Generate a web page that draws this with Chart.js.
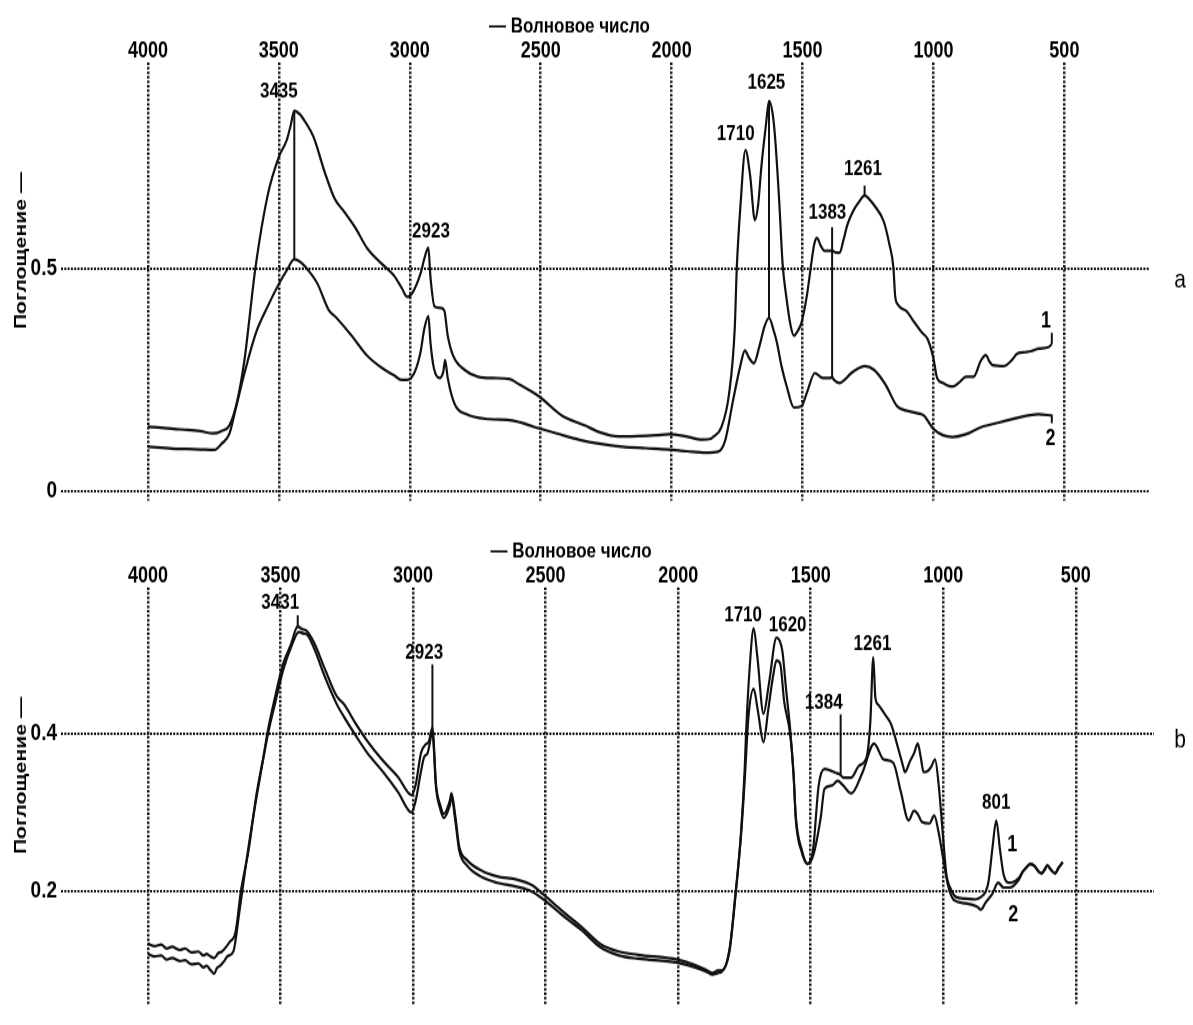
<!DOCTYPE html>
<html>
<head>
<meta charset="utf-8">
<script src="https://cdn.jsdelivr.net/npm/chart.js@4.4.1/dist/chart.umd.min.js"></script>
<style>
   html, body { margin: 0; padding: 0; background: #fff; overflow: hidden; }
   /* the source figure is stretched vertically, so each panel is drawn shorter and scaled */
   .panel { position: absolute; left: 0; width: 1193px; transform: scaleY(1.25); transform-origin: 0 0; }
   #boxA { top: 0; height: 416px; }
   #boxB { top: 520px; height: 404px; }
   canvas { display: block; }
</style>
</head>
<body>
<div id="boxA" class="panel"><canvas id="chartA" width="1193" height="416" style="width:1193px;height:416px"></canvas></div>
<div id="boxB" class="panel"><canvas id="chartB" width="1193" height="404" style="width:1193px;height:404px"></canvas></div>
<script>
// wavenumber ticks, same for both panels
const xTicks = [4000, 3500, 3000, 2500, 2000, 1500, 1000, 500];
const yTicksA = [0, 0.5];
const yTicksB = [0.2, 0.4];

const xTitle = '— Волновое число';
const yTitle = 'Поглощение —';

// ---- panel a ----
const wnA1 = [4000, 3950, 3900, 3850, 3800, 3750, 3720, 3689, 3660, 3630, 3610, 3590, 3543, 3499, 3470, 3455, 3441, 3420, 3398, 3368,
   3324, 3287, 3251, 3207, 3164, 3105, 3061, 3030, 3010, 2990, 2959, 2945, 2929, 2921, 2905, 2880, 2868, 2855, 2835, 2790,
   2740, 2680, 2620, 2580, 2507, 2419, 2332, 2277, 2204, 2130, 2058, 2010, 1950, 1883, 1850, 1839, 1810, 1781, 1759, 1751,
   1737, 1718, 1700, 1682, 1670, 1657, 1640, 1628, 1615, 1606, 1590, 1576, 1562, 1545, 1533, 1518, 1504, 1482, 1467, 1455,
   1445, 1430, 1416, 1387, 1370, 1358, 1345, 1329, 1305, 1285, 1263, 1245, 1226, 1190, 1168, 1153, 1146, 1135, 1124, 1103,
   1080, 1044, 1022, 1000, 986, 964, 940, 927, 900, 876, 847, 818, 800, 785, 774, 730, 701, 679, 650, 628,
   599, 562, 548];
const absA1 = [0.145, 0.143, 0.140, 0.138, 0.135, 0.130, 0.135, 0.148, 0.200, 0.300, 0.400, 0.499, 0.663, 0.751, 0.787, 0.820, 0.853, 0.845, 0.827, 0.795,
   0.714, 0.656, 0.627, 0.590, 0.546, 0.509, 0.484, 0.455, 0.436, 0.445, 0.488, 0.520, 0.546, 0.480, 0.414, 0.411, 0.405, 0.349, 0.305, 0.272,
   0.257, 0.254, 0.252, 0.239, 0.213, 0.170, 0.148, 0.133, 0.123, 0.124, 0.126, 0.128, 0.124, 0.116, 0.118, 0.123, 0.144, 0.217, 0.364, 0.502,
   0.641, 0.765, 0.707, 0.608, 0.640, 0.729, 0.820, 0.875, 0.850, 0.802, 0.660, 0.509, 0.436, 0.370, 0.349, 0.360, 0.378, 0.444, 0.509, 0.555,
   0.568, 0.550, 0.539, 0.539, 0.535, 0.535, 0.560, 0.597, 0.630, 0.648, 0.663, 0.655, 0.641, 0.605, 0.553, 0.502, 0.436, 0.418, 0.411, 0.404,
   0.385, 0.356, 0.341, 0.298, 0.254, 0.243, 0.236, 0.235, 0.245, 0.257, 0.257, 0.294, 0.305, 0.290, 0.283, 0.281, 0.294, 0.309, 0.312, 0.314,
   0.320, 0.323, 0.330];

const wnA2 = [4000, 3950, 3908, 3850, 3800, 3747, 3718, 3689, 3667, 3630, 3587, 3543, 3499, 3470, 3441, 3420, 3397, 3353, 3310, 3280,
   3222, 3164, 3105, 3060, 3032, 3010, 2981, 2959, 2945, 2929, 2921, 2908, 2886, 2872, 2865, 2855, 2828, 2784, 2697, 2609,
   2522, 2434, 2347, 2277, 2189, 2100, 2010, 1940, 1868, 1823, 1795, 1766, 1737, 1720, 1705, 1686, 1664, 1645, 1628, 1610,
   1598, 1580, 1562, 1533, 1504, 1482, 1453, 1423, 1394, 1387, 1380, 1358, 1340, 1314, 1290, 1263, 1226, 1183, 1139, 1110,
   1095, 1060, 1037, 1000, 964, 927, 876, 818, 745, 672, 599, 548];
const absA2 = [0.100, 0.098, 0.096, 0.095, 0.094, 0.093, 0.107, 0.129, 0.180, 0.268, 0.356, 0.414, 0.466, 0.495, 0.520, 0.515, 0.502, 0.466, 0.407, 0.389,
   0.349, 0.305, 0.276, 0.260, 0.250, 0.250, 0.268, 0.312, 0.363, 0.393, 0.334, 0.276, 0.254, 0.268, 0.294, 0.254, 0.195, 0.173, 0.162, 0.159,
   0.144, 0.129, 0.115, 0.107, 0.100, 0.097, 0.094, 0.090, 0.087, 0.089, 0.115, 0.202, 0.283, 0.316, 0.300, 0.287, 0.327, 0.370, 0.389, 0.360,
   0.334, 0.280, 0.239, 0.188, 0.191, 0.224, 0.265, 0.254, 0.254, 0.256, 0.250, 0.243, 0.250, 0.265, 0.275, 0.281, 0.272, 0.239, 0.191, 0.182,
   0.180, 0.175, 0.170, 0.140, 0.126, 0.122, 0.128, 0.144, 0.155, 0.166, 0.173, 0.170];

// vertical marker lines (peak position, top, bottom)
const markWnA = [3441, 1628, 1387, 1263, 548, 548];
const markTopA = [0.853, 0.875, 0.592, 0.685, 0.355, 0.172];
const markBotA = [0.520, 0.389, 0.257, 0.663, 0.330, 0.153];

const peakTextA = ['3435', '2923', '1710', '1625', '1383', '1261', '1', '2'];
const peakWnA = [3500, 2919, 1755, 1638, 1405, 1269, 570, 553];
const peakAbsA = [0.895, 0.581, 0.801, 0.915, 0.625, 0.723, 0.382, 0.118];

// ---- panel b ----
const wnB1 = [4000, 3975, 3950, 3930, 3909, 3880, 3860, 3836, 3810, 3790, 3779, 3765, 3750, 3735, 3721, 3705, 3692, 3670, 3649, 3620,
   3591, 3562, 3548, 3519, 3490, 3461, 3435, 3420, 3403, 3374, 3331, 3288, 3259, 3216, 3172, 3115, 3057, 3006, 2990, 2970,
   2955, 2940, 2927, 2913, 2898, 2884, 2862, 2855, 2840, 2826, 2797, 2739, 2682, 2609, 2552, 2508, 2422, 2364, 2295, 2223,
   2151, 2003, 1936, 1890, 1871, 1850, 1835, 1806, 1785, 1763, 1749, 1744, 1730, 1715, 1701, 1678, 1657, 1629, 1607, 1593,
   1578, 1565, 1556, 1534, 1512, 1491, 1470, 1448, 1426, 1405, 1390, 1376, 1347, 1318, 1289, 1275, 1264, 1256, 1245, 1218,
   1196, 1175, 1152, 1145, 1125, 1110, 1096, 1085, 1074, 1060, 1045, 1031, 1017, 1002, 988, 974, 952, 916, 880, 858,
   840, 829, 815, 800, 786, 772, 750, 735, 715, 700, 685, 671, 655, 640, 628, 617, 607, 595, 578, 565,
   549];
const absB1 = [0.134, 0.131, 0.133, 0.128, 0.130, 0.126, 0.128, 0.123, 0.124, 0.119, 0.121, 0.118, 0.116, 0.122, 0.124, 0.130, 0.136, 0.148, 0.201, 0.253,
   0.322, 0.375, 0.403, 0.448, 0.488, 0.512, 0.535, 0.532, 0.530, 0.515, 0.480, 0.447, 0.436, 0.412, 0.390, 0.366, 0.345, 0.322, 0.335, 0.375,
   0.385, 0.390, 0.407, 0.334, 0.310, 0.298, 0.314, 0.324, 0.294, 0.257, 0.240, 0.226, 0.219, 0.215, 0.208, 0.196, 0.171, 0.155, 0.134, 0.124,
   0.120, 0.114, 0.107, 0.100, 0.097, 0.100, 0.100, 0.128, 0.193, 0.274, 0.355, 0.399, 0.484, 0.533, 0.496, 0.425, 0.464, 0.521, 0.504, 0.456,
   0.407, 0.350, 0.294, 0.253, 0.235, 0.253, 0.334, 0.355, 0.353, 0.350, 0.348, 0.344, 0.344, 0.359, 0.370, 0.415, 0.496, 0.445, 0.436, 0.423,
   0.411, 0.387, 0.359, 0.351, 0.365, 0.375, 0.387, 0.370, 0.351, 0.352, 0.358, 0.367, 0.334, 0.274, 0.221, 0.205, 0.193, 0.191, 0.190, 0.193,
   0.200, 0.213, 0.253, 0.290, 0.253, 0.221, 0.211, 0.212, 0.217, 0.225, 0.231, 0.235, 0.232, 0.225, 0.223, 0.228, 0.233, 0.228, 0.223, 0.230,
   0.237];

const wnB2 = [4000, 3975, 3950, 3930, 3909, 3880, 3860, 3836, 3810, 3790, 3779, 3765, 3750, 3740, 3728, 3712, 3700, 3678, 3656, 3630,
   3605, 3577, 3548, 3519, 3490, 3461, 3431, 3410, 3400, 3374, 3331, 3288, 3259, 3216, 3172, 3115, 3057, 3006, 2990, 2970,
   2958, 2945, 2927, 2913, 2898, 2884, 2862, 2855, 2840, 2826, 2797, 2739, 2682, 2609, 2552, 2508, 2422, 2364, 2295, 2223,
   2151, 2003, 1936, 1890, 1871, 1850, 1835, 1806, 1785, 1763, 1749, 1735, 1715, 1700, 1678, 1660, 1642, 1629, 1615, 1600,
   1578, 1565, 1556, 1534, 1512, 1491, 1462, 1448, 1420, 1398, 1380, 1347, 1304, 1261, 1225, 1189, 1160, 1131, 1110, 1096,
   1081, 1052, 1034, 1017, 1002, 980, 959, 916, 873, 858, 840, 815, 793, 772, 750, 715, 700, 685, 671, 655,
   640, 628, 617, 607, 595, 578, 565, 549];
const absB2 = [0.121, 0.118, 0.119, 0.114, 0.116, 0.112, 0.113, 0.108, 0.109, 0.104, 0.106, 0.101, 0.096, 0.103, 0.106, 0.112, 0.118, 0.124, 0.172, 0.235,
   0.290, 0.345, 0.398, 0.440, 0.480, 0.508, 0.528, 0.526, 0.525, 0.508, 0.470, 0.437, 0.420, 0.397, 0.375, 0.352, 0.326, 0.300, 0.315, 0.352,
   0.370, 0.375, 0.400, 0.330, 0.305, 0.293, 0.308, 0.318, 0.288, 0.252, 0.233, 0.218, 0.211, 0.206, 0.200, 0.190, 0.166, 0.151, 0.130, 0.119,
   0.115, 0.110, 0.104, 0.098, 0.095, 0.097, 0.099, 0.125, 0.190, 0.270, 0.340, 0.420, 0.456, 0.430, 0.389, 0.430, 0.472, 0.492, 0.488, 0.440,
   0.400, 0.350, 0.290, 0.250, 0.235, 0.245, 0.294, 0.330, 0.334, 0.340, 0.335, 0.324, 0.351, 0.387, 0.367, 0.363, 0.326, 0.290, 0.302, 0.298,
   0.288, 0.286, 0.296, 0.274, 0.245, 0.205, 0.189, 0.185, 0.181, 0.177, 0.186, 0.197, 0.211, 0.205, 0.205, 0.215, 0.225, 0.231, 0.235, 0.232,
   0.225, 0.223, 0.228, 0.233, 0.228, 0.223, 0.230, 0.237];

const markWnB = [3435, 2927, 1387];
const markTopB = [0.549, 0.487, 0.424];
const markBotB = [0.533, 0.405, 0.348];

const peakTextB = ['3431', '2923', '1710', '1620', '1384', '1261', '801', '1', '2'];
const peakWnB = [3501, 2958, 1755, 1587, 1451, 1267, 800, 740, 736];
const peakAbsB = [0.565, 0.502, 0.549, 0.537, 0.439, 0.513, 0.312, 0.258, 0.170];

const FONT = '"Liberation Sans", Arial, sans-serif';

function toPoints(wn, abs) {
   return wn.map((w, i) => ({ x: w, y: abs[i] }));
}

// draws peak numbers, axis titles and the panel letter
const textPlugin = {
   id: 'spectrumText',
   afterDatasetsDraw(chart, args, opts) {
      const ctx = chart.ctx;
      const xs = chart.scales.x;
      const ys = chart.scales.y;
      const area = chart.chartArea;
      ctx.save();
      ctx.fillStyle = '#000';
      ctx.textAlign = 'center';
      ctx.textBaseline = 'middle';
      opts.text.forEach((t, i) => {
         // curve numbers a bit larger than peak numbers
         ctx.font = 'bold ' + (t.length === 1 ? '18px ' : '17px ') + FONT;
         ctx.fillText(t, xs.getPixelForValue(opts.wn[i]), ys.getPixelForValue(opts.abs[i]));
      });
      ctx.font = 'bold 17px ' + FONT;
      ctx.fillText(xTitle, xs.getPixelForValue(opts.titleWn), area.top - 29.5);

      ctx.font = '21px ' + FONT;
      ctx.fillText(opts.letter, 1180, ys.getPixelForValue(opts.letterAbs));

      ctx.translate(21, area.top + 150);
      ctx.rotate(-Math.PI / 2);
      ctx.font = 'bold 17px ' + FONT;
      ctx.fillText(yTitle, 0, 0);
      ctx.restore();
   }
};

function buildConfig(p) {
   const datasets = p.curves.map(c => ({
      data: toPoints(c[0], c[1]),
      borderColor: '#111',
      borderWidth: 2.2,
      pointRadius: 0,
      cubicInterpolationMode: 'monotone',
      fill: false
   }));
   p.markWn.forEach((w, i) => {
      datasets.push({
         data: [{ x: w, y: p.markTop[i] }, { x: w, y: p.markBot[i] }],
         borderColor: '#111',
         borderWidth: 2,
         pointRadius: 0,
         fill: false
      });
   });

   return {
      type: 'line',
      data: { datasets: datasets },
      plugins: [textPlugin],
      options: {
         responsive: false,
         animation: false,
         layout: { padding: p.padding },
         plugins: {
            legend: { display: false },
            tooltip: { enabled: false },
            spectrumText: {
               text: p.text, wn: p.textWn, abs: p.textAbs,
               titleWn: p.titleWn, letter: p.letter, letterAbs: p.letterAbs
            }
         },
         scales: {
            x: {
               type: 'linear',
               position: 'top',
               reverse: true,
               min: p.xMin,
               max: p.xMax,
               afterBuildTicks: scale => { scale.ticks = xTicks.map(v => ({ value: v })); },
               afterFit: scale => { scale.height = 22; },
               ticks: {
                  color: '#000',
                  font: { family: FONT, size: 18, weight: 'bold', lineHeight: 1 },
                  padding: 0,
                  maxRotation: 0,
                  autoSkip: false,
                  callback: v => String(v)
               },
               grid: { color: '#111', lineWidth: 2.5, drawTicks: false },
               border: { display: false, dash: [2, 1.6] }
            },
            y: {
               type: 'linear',
               min: p.yMin,
               max: p.yMax,
               afterBuildTicks: scale => { scale.ticks = p.yTicks.map(v => ({ value: v })); },
               afterFit: scale => { scale.width = 61; },
               ticks: {
                  color: '#000',
                  font: { family: FONT, size: 19, weight: 'bold' },
                  padding: 4,
                  callback: v => String(v)
               },
               grid: { color: '#111', lineWidth: 2, drawTicks: false },
               border: { display: false, dash: [2, 1.3] }
            }
         }
      }
   };
}

const chartA = new Chart(document.getElementById('chartA'), buildConfig({
   curves: [[wnA1, absA1], [wnA2, absA2]],
   markWn: markWnA, markTop: markTopA, markBot: markBotA,
   text: peakTextA, textWn: peakWnA, textAbs: peakAbsA,
   titleWn: 2390, letter: 'a', letterAbs: 0.473,
   xMin: 173, xMax: 4332, yMin: -0.021, yMax: 0.960, yTicks: yTicksA,
   padding: { top: 28.4, right: 43, bottom: 9.6, left: 0 }
}));

const chartB = new Chart(document.getElementById('chartB'), buildConfig({
   curves: [[wnB1, absB1], [wnB2, absB2]],
   markWn: markWnB, markTop: markTopB, markBot: markBotB,
   text: peakTextB, textWn: peakWnB, textAbs: peakAbsB,
   titleWn: 2404, letter: 'b', letterAbs: 0.391,
   xMin: 205, xMax: 4328, yMin: 0.0555, yMax: 0.5837, yTicks: yTicksB,
   padding: { top: 32.4, right: 39, bottom: 1.6, left: 0 }
}));
</script>
</body>
</html>
